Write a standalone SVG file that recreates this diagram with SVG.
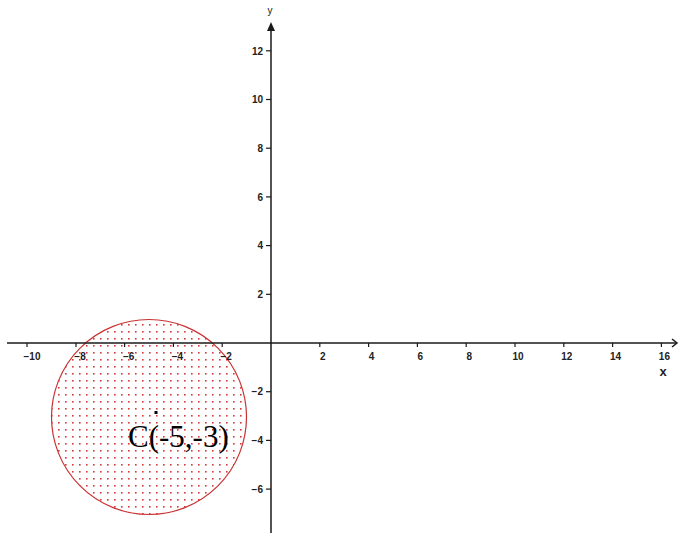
<svg xmlns="http://www.w3.org/2000/svg" width="681" height="533" viewBox="0 0 681 533">
<defs>
<style>
.axis{stroke:#1a1a1a;stroke-width:1.5;fill:none}
.tick{stroke:#1a1a1a;stroke-width:1.2}
.lbl{font-family:"Liberation Sans",Arial,sans-serif;font-size:10px;fill:#222;font-weight:bold}
.xl{text-anchor:middle}
.yl{text-anchor:end}
.ax{font-family:"Liberation Sans",Arial,sans-serif;fill:#222}
</style>
<pattern id="dots" x="0" y="0" width="7" height="7" patternUnits="userSpaceOnUse">
<rect x="2" y="2" width="1.6" height="1.6" fill="#d83a3a"/>
</pattern>
</defs>
<g id="region">
<circle cx="149" cy="417" r="97.5" fill="url(#dots)" stroke="#c83232" stroke-width="1.2"/>
</g>
<g id="axes">
<line class="axis" x1="7" y1="343" x2="676" y2="343"/>
<path class="axis" d="M672 339 L677 343 L672 347" stroke-width="1.6"/>
<line class="axis" x1="271" y1="533" x2="271" y2="30"/>
<path d="M271 22 L275 31 L267 31 Z" fill="#1a1a1a"/>
<text class="ax" x="270" y="14" font-size="10" text-anchor="middle">y</text>
<text class="ax" x="663" y="376" font-size="13" font-weight="bold" text-anchor="middle">x</text>
</g>
<g id="xticks">
<line class="tick" x1="27" y1="343" x2="27" y2="347"/>
<line class="tick" x1="76" y1="343" x2="76" y2="347"/>
<line class="tick" x1="124.6" y1="343" x2="124.6" y2="347"/>
<line class="tick" x1="173.4" y1="343" x2="173.4" y2="347"/>
<line class="tick" x1="222.2" y1="343" x2="222.2" y2="347"/>
<line class="tick" x1="319.8" y1="343" x2="319.8" y2="347"/>
<line class="tick" x1="368.6" y1="343" x2="368.6" y2="347"/>
<line class="tick" x1="417.4" y1="343" x2="417.4" y2="347"/>
<line class="tick" x1="466.2" y1="343" x2="466.2" y2="347"/>
<line class="tick" x1="515" y1="343" x2="515" y2="347"/>
<line class="tick" x1="563.8" y1="343" x2="563.8" y2="347"/>
<line class="tick" x1="612.6" y1="343" x2="612.6" y2="347"/>
<line class="tick" x1="661.4" y1="343" x2="661.4" y2="347"/>
<text class="lbl xl" x="32" y="360">−10</text>
<text class="lbl xl" x="80" y="360">−8</text>
<text class="lbl xl" x="128.6" y="360">−6</text>
<text class="lbl xl" x="177.4" y="360">−4</text>
<text class="lbl xl" x="226.2" y="360">−2</text>
<text class="lbl xl" x="322.8" y="360">2</text>
<text class="lbl xl" x="371.6" y="360">4</text>
<text class="lbl xl" x="420.4" y="360">6</text>
<text class="lbl xl" x="469.2" y="360">8</text>
<text class="lbl xl" x="518" y="360">10</text>
<text class="lbl xl" x="566.8" y="360">12</text>
<text class="lbl xl" x="615.6" y="360">14</text>
<text class="lbl xl" x="664.4" y="360">16</text>
</g>
<g id="yticks">
<line class="tick" x1="266" y1="50.8" x2="271" y2="50.8"/>
<line class="tick" x1="266" y1="99.5" x2="271" y2="99.5"/>
<line class="tick" x1="266" y1="148.2" x2="271" y2="148.2"/>
<line class="tick" x1="266" y1="196.9" x2="271" y2="196.9"/>
<line class="tick" x1="266" y1="245.6" x2="271" y2="245.6"/>
<line class="tick" x1="266" y1="294.3" x2="271" y2="294.3"/>
<line class="tick" x1="266" y1="391.7" x2="271" y2="391.7"/>
<line class="tick" x1="266" y1="440.4" x2="271" y2="440.4"/>
<line class="tick" x1="266" y1="489.1" x2="271" y2="489.1"/>
<text class="lbl yl" x="263" y="54.5">12</text>
<text class="lbl yl" x="263" y="103.2">10</text>
<text class="lbl yl" x="263" y="151.9">8</text>
<text class="lbl yl" x="263" y="200.6">6</text>
<text class="lbl yl" x="263" y="249.3">4</text>
<text class="lbl yl" x="263" y="298">2</text>
<text class="lbl yl" x="263" y="395.4">−2</text>
<text class="lbl yl" x="263" y="444.1">−4</text>
<text class="lbl yl" x="263" y="492.8">−6</text>
</g>
<g id="center">
<rect x="154.5" y="411" width="3" height="3" fill="#000"/>
<text x="128" y="447" font-family="'Liberation Serif','Times New Roman',serif" font-size="31" fill="#000">C(-5,-3)</text>
</g>
</svg>
